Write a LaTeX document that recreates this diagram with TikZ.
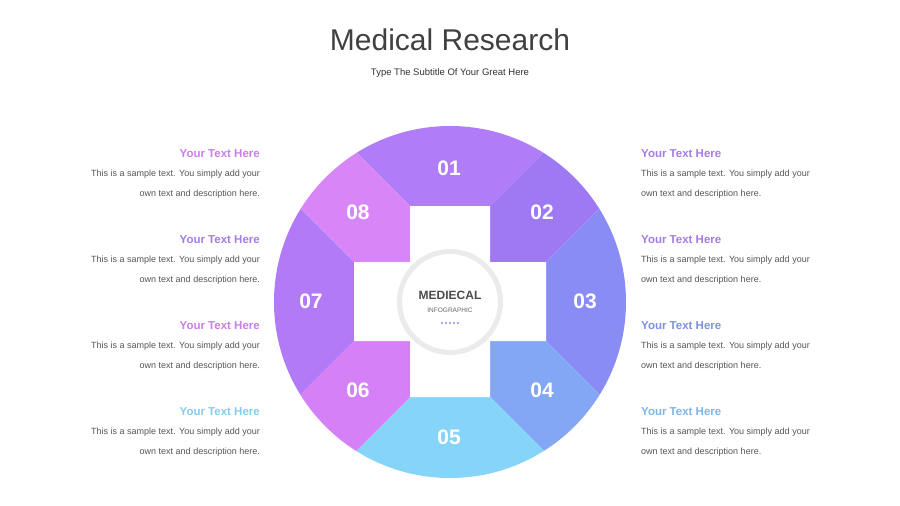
\documentclass[tikz,border=0pt]{standalone}
\usepackage{fontspec}
\setmainfont{Liberation Sans}
\definecolor{cOne}{HTML}{B07CF8}
\definecolor{cTwo}{HTML}{9F78F4}
\definecolor{cThree}{HTML}{8A8CF6}
\definecolor{cFour}{HTML}{83A6F5}
\definecolor{cFive}{HTML}{86D5F8}
\definecolor{cSix}{HTML}{D580F6}
\definecolor{cSeven}{HTML}{B27AF6}
\definecolor{cEight}{HTML}{D886F7}
\definecolor{hPink}{HTML}{C97EE6}
\definecolor{hPurple}{HTML}{A57BE6}
\definecolor{hBlue}{HTML}{7F8EE6}
\definecolor{hSky}{HTML}{7FB5E8}
\definecolor{hCyan}{HTML}{86CCEA}
\definecolor{bodygray}{HTML}{555555}
\tikzset{
  num/.style={text=white,font=\fontsize{21}{21}\selectfont\bfseries},
  head/.style={font=\fontsize{11.5}{12}\selectfont\bfseries},
  body/.style={text=bodygray,font=\fontsize{9}{20}\selectfont,inner sep=0pt},
}
\begin{document}
\begin{tikzpicture}[x=1pt,y=-1pt]
\useasboundingbox (0,0) rectangle (900,506);

% segments
\begin{scope}
\clip (450,302) circle (176);
\fill[cOne] (410,206) -- (110,-94) -- (790,-94) -- (490,206) -- cycle;
\fill[cTwo] (490,206) -- (790,-94) -- (846,-38) -- (546,262) -- (490,262) -- cycle;
\fill[cThree] (546,262) -- (846,-38) -- (846,641) -- (546,341) -- cycle;
\fill[cFour] (546,341) -- (846,641) -- (790,697) -- (490,397) -- (490,341) -- cycle;
\fill[cFive] (490,397) -- (790,697) -- (110,697) -- (410,397) -- cycle;
\fill[cSix] (410,397) -- (110,697) -- (54,641) -- (354,341) -- (410,341) -- cycle;
\fill[cSeven] (354,341) -- (54,641) -- (54,-38) -- (354,262) -- cycle;
\fill[cEight] (354,262) -- (54,-38) -- (110,-94) -- (410,206) -- (410,262) -- cycle;
\end{scope}

% white cross and ring
\fill[white] (410,206) rectangle (490,397) (354,262) rectangle (546,341);
\draw[line width=5pt,color=black!8] (450,302) circle (50.5);

\node[num] (n1) at (449,168) {01};
\node[num] (n2) at (542,212) {02};
\node[num] (n3) at (585,301) {03};
\node[num] (n4) at (542,390) {04};
\node[num] (n5) at (449,437) {05};
\node[num] (n6) at (358,390) {06};
\node[num] (n7) at (311,301) {07};
\node[num] (n8) at (358,212) {08};

\node[text=black!70,font=\fontsize{12}{12}\selectfont\bfseries] (mid) at (450,295) {MEDIECAL};
\node[text=black!60,font=\fontsize{6.5}{7}\selectfont] (info) at (450,310) {INFOGRAPHIC};
\foreach \i in {0,...,4}
  \fill[hBlue] (442+4*\i,323) circle (1.1);

% title
\node[text=black!75,font=\fontsize{30}{30}\selectfont] (title) at (450,40) {Medical Research};
\node[text=black!80,font=\fontsize{9.5}{10}\selectfont] (sub) at (450,73) {Type The Subtitle Of Your Great Here};

% left column
\foreach \y/\c [count=\k] in {154/hPink,240/hPurple,326/hPink,412/hCyan}{
  \node[head,text=\c,anchor=east,inner sep=0pt] (lh\k) at (260,\y) {Your Text Here};
  \node[body,anchor=north east,align=right] (lb\k) at (260,\y+16) {This is a sample text. You simply add your\\own text and description here.};
}
% right column
\foreach \y/\c [count=\k] in {154/hPurple,240/hPurple,326/hBlue,412/hSky}{
  \node[head,text=\c,anchor=west,inner sep=0pt] (rh\k) at (641,\y) {Your Text Here};
  \node[body,anchor=north west,align=left] (rb\k) at (641,\y+16) {This is a sample text. You simply add your\\own text and description here.};
}
\end{tikzpicture}
\end{document}
